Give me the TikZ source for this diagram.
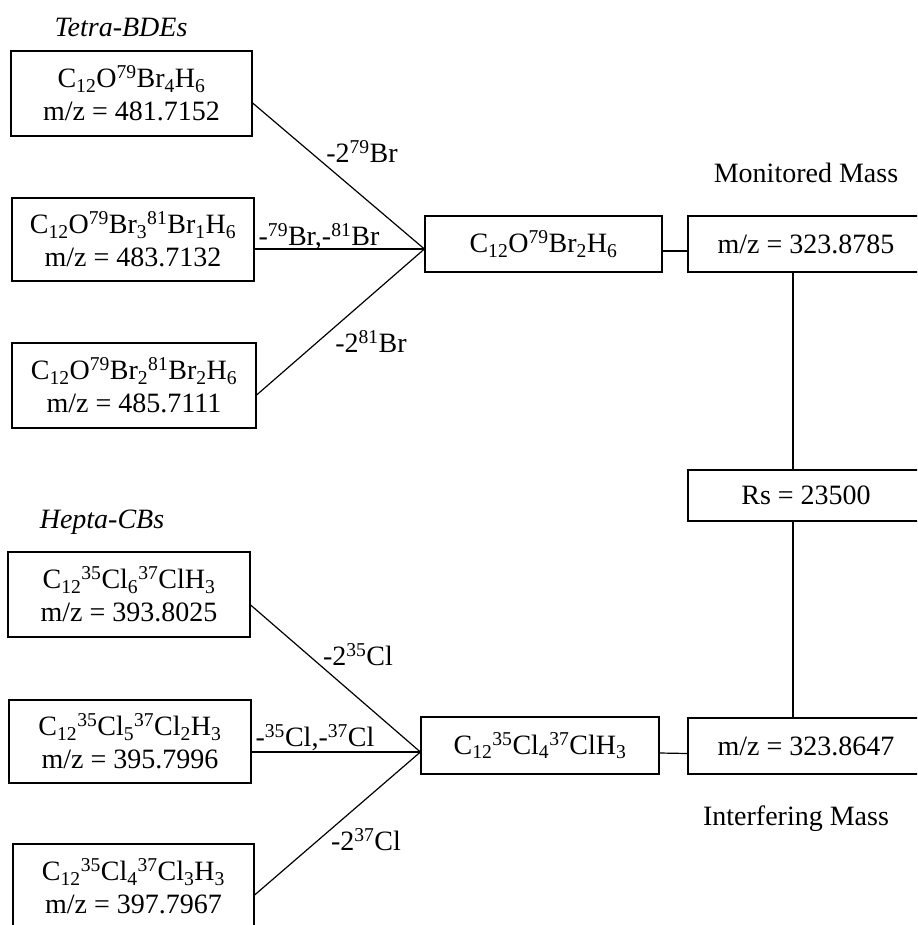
\documentclass[tikz,border=0pt]{standalone}
\usepackage{fontspec}
\setmainfont{Liberation Serif}
\usetikzlibrary{calc}
\begin{document}
\begin{tikzpicture}[x=1pt,y=-1pt,
  box/.style={draw, line width=1.2pt, inner sep=0pt, align=center, font=\fontsize{28}{33}\selectfont},
  lab/.style={inner sep=0pt, font=\fontsize{28}{33}\selectfont},
  conn/.style={line width=1.2pt}]
\path[use as bounding box] (0,0) rectangle (917,925);
\clip (0,0) rectangle (917,925);

% headings
\node[lab, font=\fontsize{28}{33}\selectfont\itshape] (tbde) at (121,27) {Tetra-BDEs};
\node[lab, font=\fontsize{28}{33}\selectfont\itshape] (hcb) at (102,522) {Hepta-CBs};
\node[lab] (mon) at (806,173) {Monitored Mass};
\node[lab] (intf) at (796,819) {Interfering Mass};

% upper left boxes
\node[box, minimum width=241pt, minimum height=85pt] (b1) at (131.5,93.5)
  {C\textsubscript{12}O\textsuperscript{79}Br\textsubscript{4}H\textsubscript{6}\\m/z = 481.7152};
\node[box, minimum width=242pt, minimum height=83pt] (b2) at (133,239.5)
  {C\textsubscript{12}O\textsuperscript{79}Br\textsubscript{3}\textsuperscript{81}Br\textsubscript{1}H\textsubscript{6}\\m/z = 483.7132};
\node[box, minimum width=244pt, minimum height=85pt] (b3) at (134,385.5)
  {C\textsubscript{12}O\textsuperscript{79}Br\textsubscript{2}\textsuperscript{81}Br\textsubscript{2}H\textsubscript{6}\\m/z = 485.7111};

% lower left boxes
\node[box, minimum width=242pt, minimum height=85pt] (b4) at (129,594.5)
  {C\textsubscript{12}\textsuperscript{35}Cl\textsubscript{6}\textsuperscript{37}ClH\textsubscript{3}\\m/z = 393.8025};
\node[box, minimum width=242pt, minimum height=83pt] (b5) at (130,741.5)
  {C\textsubscript{12}\textsuperscript{35}Cl\textsubscript{5}\textsuperscript{37}Cl\textsubscript{2}H\textsubscript{3}\\m/z = 395.7996};
\node[box, minimum width=241pt, minimum height=85pt] (b6) at (133.5,886.5)
  {C\textsubscript{12}\textsuperscript{35}Cl\textsubscript{4}\textsuperscript{37}Cl\textsubscript{3}H\textsubscript{3}\\m/z = 397.7967};

% middle boxes
\node[box, minimum width=237pt, minimum height=56pt] (m1) at (543.5,244)
  {C\textsubscript{12}O\textsuperscript{79}Br\textsubscript{2}H\textsubscript{6}};
\node[box, minimum width=238pt, minimum height=57pt] (m2) at (540,745.5)
  {C\textsubscript{12}\textsuperscript{35}Cl\textsubscript{4}\textsuperscript{37}ClH\textsubscript{3}};

% right boxes
\node[box, minimum width=236pt, minimum height=56pt] (r1) at (806,244) {m/z = 323.8785};
\node[box, minimum width=236pt, minimum height=51pt] (rs) at (806,495.5) {Rs = 23500};
\node[box, minimum width=236pt, minimum height=56pt] (r2) at (806,746) {m/z = 323.8647};

% connectors upper
\coordinate (j1) at ([yshift=-5pt]m1.west);
\draw[conn] ([yshift=-9.5pt]b1.east) -- (j1);
\draw[conn] ([yshift=-9.5pt]b2.east) -- (j1);
\draw[conn] ([yshift=-9.5pt]b3.east) -- (j1);
\draw[conn] ([yshift=-7pt]m1.east) -- ([yshift=-7pt]r1.west);

% connectors lower
\coordinate (j2) at ([yshift=-6.5pt]m2.west);
\draw[conn] ([yshift=-10.5pt]b4.east) -- (j2);
\draw[conn] ([yshift=-10.5pt]b5.east) -- (j2);
\draw[conn] ([yshift=-8.5pt]b6.east) -- (j2);
\draw[conn] ([yshift=-7.5pt]m2.east) -- ([yshift=-7.5pt]r2.west);

% vertical links
\coordinate (vx) at (793,0);
\draw[conn] (r1.south -| vx) -- (rs.north -| vx);
\draw[conn] (rs.south -| vx) -- (r2.north -| vx);

% connector labels
\node[lab] (l1) at (362,152) {-2\textsuperscript{79}Br};
\node[lab] (l2) at (319,237) {-\textsuperscript{79}Br,-\textsuperscript{81}Br};
\node[lab] (l3) at (371,342) {-2\textsuperscript{81}Br};
\node[lab] (l4) at (358,655) {-2\textsuperscript{35}Cl};
\node[lab] (l5) at (315,738) {-\textsuperscript{35}Cl,-\textsuperscript{37}Cl};
\node[lab] (l6) at (366,840) {-2\textsuperscript{37}Cl};
\end{tikzpicture}
\end{document}
